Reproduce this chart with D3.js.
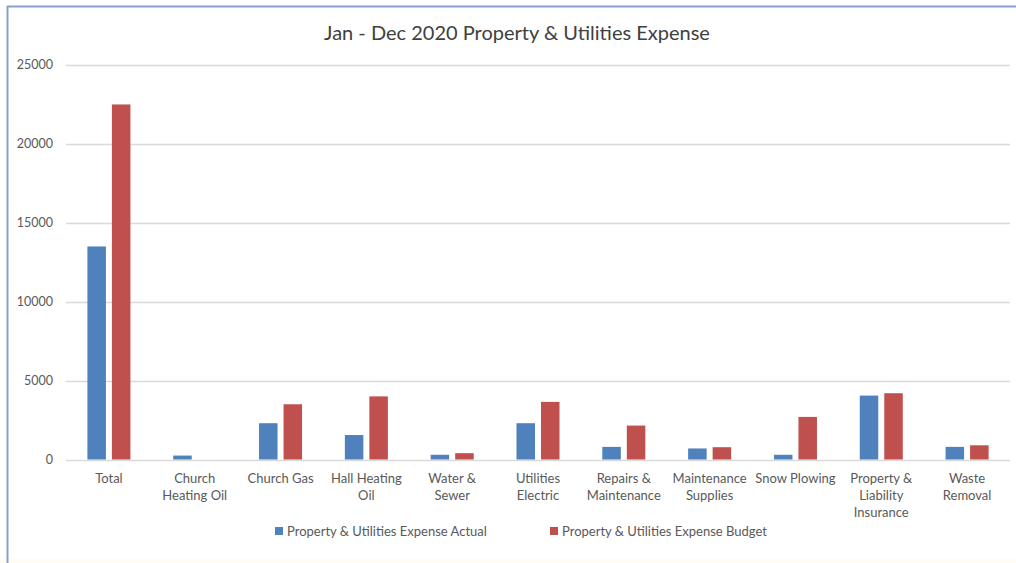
<!DOCTYPE html>
<html><head><meta charset="utf-8">
<script src="https://cdn.jsdelivr.net/npm/d3@7"></script>
<style>
html,body{margin:0;padding:0;background:#fff;}
svg{display:block;font-family:Lato,"Open Sans",sans-serif;}
</style></head>
<body>
<svg id="chart" width="1016" height="563"></svg>
<script>
const categories = ["Total","Church Heating Oil","Church Gas","Hall Heating Oil","Water & Sewer","Utilities Electric","Repairs & Maintenance","Maintenance Supplies","Snow Plowing","Property & Liability Insurance","Waste Removal"];
const categoryLines = [["Total"],["Church","Heating Oil"],["Church Gas"],["Hall Heating","Oil"],["Water &","Sewer"],["Utilities","Electric"],["Repairs &","Maintenance"],["Maintenance","Supplies"],["Snow Plowing"],["Property &","Liability","Insurance"],["Waste","Removal"]];
const actual = [13500, 250, 2300, 1550, 300, 2300, 800, 700, 300, 4050, 800];
const budget = [22500, 0, 3500, 4000, 400, 3650, 2150, 780, 2700, 4200, 900];
const seriesNames = ["Property & Utilities Expense Actual","Property & Utilities Expense Budget"];
const yTicks = [0, 5000, 10000, 15000, 20000, 25000];
const title = "Jan - Dec 2020 Property & Utilities Expense";

const colors = ["#4f81bd","#c0504d"];
const svg = d3.select("#chart");
const W = 1016, H = 563;

// frame
svg.append("rect").attr("x",0).attr("y",0).attr("width",W).attr("height",H).attr("fill","#fff");
svg.append("rect").attr("x",0).attr("y",H-4).attr("width",W).attr("height",4).attr("fill","#fffdf3");
svg.append("line").attr("x1",7.5).attr("x2",7.5).attr("y1",6).attr("y2",H).attr("stroke","#8ba0c8").attr("stroke-width",2);
svg.append("line").attr("x1",7).attr("x2",W).attr("y1",6.5).attr("y2",6.5).attr("stroke","#8ba0c8").attr("stroke-width",2);

const plotLeft = 66, plotRight = 1010, plotTop = 65, plotBottom = 459.5;
const x = d3.scaleBand().domain(categories).range([plotLeft,plotRight]).paddingInner(0).paddingOuter(0);
const y = d3.scaleLinear().domain([0,25000]).range([plotBottom,plotTop]);
const x1 = d3.scaleBand().domain([0,1]).range([0,x.bandwidth()]).paddingInner(0.245).paddingOuter(0.873);

// grid
svg.append("g").selectAll("line").data(yTicks).join("line")
  .attr("x1",plotLeft).attr("x2",plotRight)
  .attr("y1",d=>Math.round(y(d))+0.5).attr("y2",d=>Math.round(y(d))+0.5)
  .attr("stroke","#d9d9d9").attr("stroke-width",1.3);

// y labels
svg.append("g").selectAll("text").data(yTicks).join("text")
  .attr("x",53).attr("y",d=>y(d)+4)
  .attr("text-anchor","end").attr("font-size",12.5).attr("fill","#595959")
  .text(d=>d);

// bars
const series = [actual, budget];
series.forEach((vals,si)=>{
  svg.append("g").selectAll("rect").data(vals).join("rect")
    .attr("x",(d,i)=>x(categories[i])+x1(si))
    .attr("width",x1.bandwidth())
    .attr("y",d=>y(d))
    .attr("height",d=>y(0)-y(d))
    .attr("fill",colors[si]);
});

// category labels
const cl = svg.append("g");
categories.forEach((c,i)=>{
  const t = cl.append("text").attr("text-anchor","middle").attr("font-size",13).attr("fill","#595959");
  categoryLines[i].forEach((ln,j)=>{
    t.append("tspan").attr("x",x(c)+x.bandwidth()/2).attr("y",483+j*17).text(ln);
  });
});

// title
svg.append("text").attr("x",517).attr("y",40).attr("text-anchor","middle")
  .attr("font-size",20).attr("fill","#404040").text(title);

// legend
const legendX = [275, 550];
seriesNames.forEach((n,i)=>{
  svg.append("rect").attr("x",legendX[i]).attr("y",527).attr("width",8).attr("height",8).attr("fill",colors[i]);
  svg.append("text").attr("x",legendX[i]+12).attr("y",536).attr("font-size",13).attr("fill","#595959").text(n);
});
</script>
</body></html>
